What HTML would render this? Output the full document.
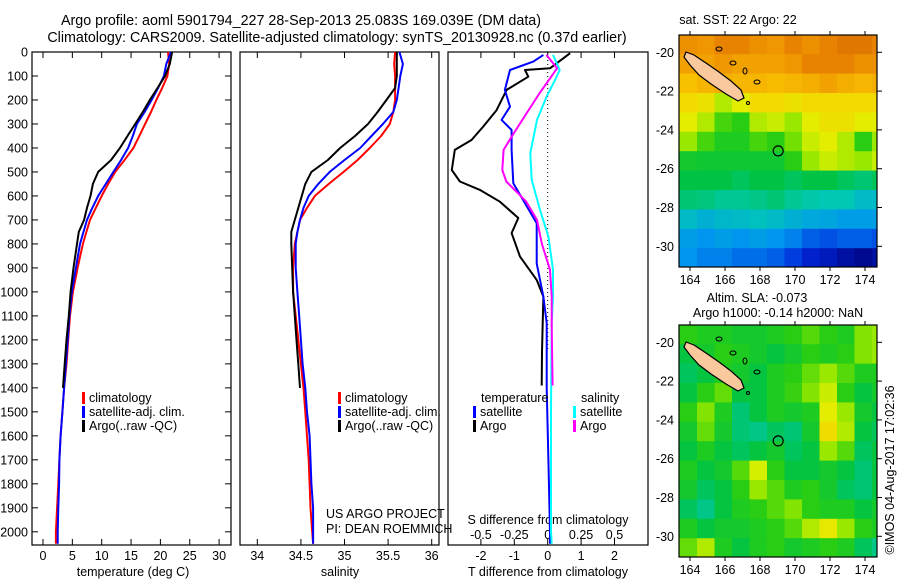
<!DOCTYPE html>
<html><head><meta charset="utf-8">
<style>
html,body{margin:0;padding:0;background:#fff;}
svg{display:block;font-family:"Liberation Sans",sans-serif;}
text{font-size:12.5px;fill:#000;}
</style></head>
<body>
<svg id="fig" width="900" height="580" viewBox="0 0 900 580" xmlns="http://www.w3.org/2000/svg">
<text x="301" y="25" text-anchor="middle" style="font-size:14.3px">Argo profile: aoml 5901794_227 28-Sep-2013 25.083S 169.039E (DM data)</text>
<text x="337" y="42" text-anchor="middle" style="font-size:14.3px">Climatology: CARS2009. Satellite-adjusted climatology: synTS_20130928.nc (0.37d earlier)</text>
<text x="738" y="24" text-anchor="middle">sat. SST: 22 Argo: 22</text>
<text x="757" y="302" text-anchor="middle">Altim. SLA: -0.073</text>
<text x="778" y="317" text-anchor="middle">Argo h1000: -0.14 h2000: NaN</text>
<text transform="translate(894,470) rotate(-90)" text-anchor="middle">©IMOS 04-Aug-2017 17:02:36</text>
<g id="g"></g>
</svg>
<script>
// ---------- data ----------
const depths = [0,50,100,150,200,250,300,350,400,450,500,550,600,650,700,750,800,900,1000,1100,1200,1300,1400,1500,1600,1700,1800,1900,2000,2050];
const tempClim = [21.3,21.5,21.2,20.3,19.3,18.4,17.4,16.4,15.4,13.9,12.3,11.1,10.0,9.0,8.0,7.4,6.8,5.9,5.1,4.6,4.3,4.0,3.6,3.3,3.0,2.8,2.6,2.4,2.2,2.2];
const tempSat = [21.8,21.0,20.6,19.6,18.5,17.3,16.0,15.3,14.5,13.3,12.0,10.7,9.4,8.4,7.5,6.9,6.3,5.6,4.9,4.5,4.2,3.9,3.6,3.3,3.0,2.8,2.75,2.6,2.5,2.5];
const argoDepths = [0,50,100,150,200,250,300,350,400,450,500,550,600,650,700,750,800,900,1000,1100,1200,1300,1400];
const tempArgo = [22.0,21.6,20.8,19.5,18.2,17.0,15.7,14.4,13.1,11.6,9.4,8.5,8.1,7.5,7.0,6.1,5.8,5.2,4.7,4.4,4.0,3.7,3.4];
const salClim = [35.58,35.57,35.58,35.58,35.58,35.56,35.52,35.42,35.29,35.15,34.99,34.82,34.66,34.57,34.49,34.46,34.43,34.41,34.41,34.44,34.47,34.50,34.53,34.55,34.57,34.59,34.60,34.61,34.63,34.64];
const salSat = [35.63,35.67,35.64,35.62,35.60,35.56,35.44,35.31,35.18,35.00,34.83,34.70,34.59,34.53,34.49,34.46,34.44,34.44,34.46,34.48,34.50,34.52,34.55,34.57,34.60,34.61,34.62,34.64,34.64,34.64];
const salArgo = [35.60,35.60,35.60,35.58,35.48,35.38,35.27,35.12,34.95,34.81,34.62,34.55,34.51,34.47,34.43,34.39,34.39,34.40,34.41,34.43,34.45,34.47,34.49];
const dDepthArgoT = [5,68,75,103,158,242,311,367,408,492,540,575,624,692,755,853,950,1020,1130,1250,1390];
const dTArgo = [0.67,0.07,-0.68,-0.58,-1.23,-1.53,-1.93,-2.28,-2.78,-2.87,-2.63,-2.03,-1.43,-0.88,-1.08,-0.83,-0.33,-0.13,-0.15,-0.17,-0.18];
const dDepthArgoS = [12,68,171,283,353,408,492,540,624,700,797,908,1020,1143,1390];
const dSArgo = [-0.01,0.07,-0.06,-0.19,-0.27,-0.33,-0.34,-0.31,-0.16,-0.08,-0.045,0.017,0.03,0.03,0.037];
const dDepthSatT = [12,40,75,158,228,283,325,408,547,714,881,1020,1130,1400,1700,2000,2050];
const dTSat = [-0.13,-0.43,-1.13,-1.28,-1.13,-1.38,-1.08,-1.08,-1.03,-0.33,-0.33,-0.13,-0.03,-0.03,0.02,0.07,0.07];
const dDepthSatS = [12,75,117,186,283,422,533,658,769,908,1020,1130,1500,2000,2050];
const dSSat = [0.04,0.09,0.055,-0.008,-0.08,-0.13,-0.12,-0.058,0.005,0.04,0.04,0.03,0.025,0.025,0.03];
const depthTicks = [0,100,200,300,400,500,600,700,800,900,1000,1100,1200,1300,1400,1500,1600,1700,1800,1900,2000];
const tempTicks = [0,5,10,15,20,25,30];
const salTicks = [34,34.5,35,35.5,36];
const salTickLabels = ["34","34.5","35","35.5","36"];
const dTTicks = [-2,-1,0,1,2];
const dSTicks = [-0.5,-0.25,0,0.25,0.5];
const lonTicks = [164,166,168,170,172,174];
const latTicks = [-20,-22,-24,-26,-28,-30];
const gridLons = [163.4,164.4,165.4,166.4,167.4,168.4,169.4,170.4,171.4,172.4,173.4,174.4];
const gridLats = [-19.1,-20.1,-21.1,-22.1,-23.1,-24.1,-25.1,-26.1,-27.1,-28.1,-29.1,-30.1];
const sstGrid = [
[0.93,0.92,0.95,0.95,0.93,0.92,0.95,0.93,0.95,0.97,0.97,0.95],
[0.9,0.9,0.92,0.9,0.9,0.9,0.92,0.95,0.95,0.95,0.93,0.93],
[0.85,0.87,0.88,0.87,0.87,0.86,0.87,0.88,0.9,0.88,0.87,0.88],
[0.8,0.78,0.7,0.75,0.8,0.8,0.78,0.8,0.8,0.8,0.8,0.8],
[0.75,0.7,0.62,0.6,0.7,0.72,0.68,0.75,0.78,0.78,0.75,0.75],
[0.68,0.62,0.58,0.58,0.62,0.6,0.65,0.72,0.75,0.7,0.6,0.68],
[0.56,0.55,0.55,0.55,0.55,0.55,0.6,0.68,0.72,0.7,0.68,0.72],
[0.52,0.52,0.52,0.5,0.52,0.52,0.5,0.52,0.52,0.5,0.48,0.5],
[0.48,0.47,0.45,0.45,0.46,0.48,0.45,0.43,0.42,0.42,0.38,0.38],
[0.38,0.35,0.37,0.38,0.4,0.38,0.35,0.33,0.32,0.3,0.3,0.3],
[0.3,0.28,0.3,0.28,0.3,0.28,0.25,0.2,0.18,0.2,0.2,0.18],
[0.28,0.25,0.25,0.22,0.22,0.2,0.15,0.1,0.08,0.05,0.03,0.05]];
const slaGrid = [
[0.6,0.58,0.58,0.56,0.56,0.58,0.6,0.63,0.6,0.58,0.66,0.68],
[0.53,0.56,0.6,0.58,0.56,0.53,0.56,0.6,0.58,0.6,0.66,0.68],
[0.5,0.53,0.58,0.56,0.53,0.58,0.6,0.64,0.68,0.63,0.58,0.58],
[0.53,0.6,0.64,0.53,0.53,0.58,0.61,0.66,0.72,0.6,0.53,0.56],
[0.6,0.66,0.58,0.48,0.53,0.58,0.56,0.58,0.75,0.68,0.56,0.53],
[0.56,0.64,0.56,0.48,0.46,0.5,0.48,0.56,0.79,0.7,0.53,0.5],
[0.53,0.58,0.53,0.5,0.53,0.56,0.5,0.53,0.68,0.63,0.5,0.53],
[0.58,0.53,0.56,0.63,0.73,0.6,0.53,0.53,0.56,0.53,0.48,0.53],
[0.56,0.5,0.53,0.6,0.68,0.63,0.58,0.6,0.56,0.5,0.48,0.53],
[0.5,0.46,0.53,0.58,0.6,0.63,0.66,0.6,0.58,0.58,0.53,0.56],
[0.58,0.53,0.56,0.56,0.58,0.6,0.63,0.7,0.76,0.68,0.6,0.58],
[0.64,0.7,0.58,0.53,0.58,0.6,0.56,0.58,0.6,0.58,0.5,0.46]];
const argoLon = 169.039, argoLat = -25.083;

// ---------- helpers ----------
const NS = "http://www.w3.org/2000/svg";
const G = document.getElementById('g');
function mk(tag, attrs, parent){const e=document.createElementNS(NS,tag);for(const k in attrs)e.setAttribute(k,attrs[k]);(parent||G).appendChild(e);return e;}
const Y0=52, PXM=0.2399;
const yD = d => Y0 + d*PXM;
const xT = v => 43 + v*5.87;
const xS = v => 257.3 + (v-34)*87.2;
const xDT = v => 547.7 + v*33.4;
const xDS = v => 547.7 + v*133.6;
const BOT = 545;
const panels = [{l:32,r:231},{l:240,r:439},{l:448,r:648}];

function poly(xs, ys, fx, color, w, name){
  const pts = xs.map((v,i)=>fx(v).toFixed(1)+','+yD(ys[i]).toFixed(1)).join(' ');
  const e = mk('polyline',{points:pts,fill:'none',stroke:color,'stroke-width':w,'stroke-linejoin':'round'});
  
  
}
function txt(x,y,s,anchor,name){
  const t = mk('text',{x:x,y:y,'text-anchor':anchor||'start'}); t.textContent=s;
  
  
  return t;
}

panels.forEach((p,i)=>{
  const r = mk('rect',{x:p.l,y:Y0,width:p.r-p.l,height:BOT-Y0,fill:'none',stroke:'#000','stroke-width':1.2});
  
  
});
depthTicks.forEach(d=>{
  const y=yD(d);
  mk('line',{x1:32,x2:38,y1:y,y2:y,stroke:'#000'});
  mk('line',{x1:225,x2:231,y1:y,y2:y,stroke:'#000'});
  txt(28,y+4.5,String(d),'end','depth-tick-label');
});
function xticks(vals, fx, labels, ylab, name){
  vals.forEach((v,i)=>{
    const x=fx(v);
    mk('line',{x1:x,x2:x,y1:Y0,y2:Y0+6,stroke:'#000'});
    mk('line',{x1:x,x2:x,y1:BOT,y2:BOT-6,stroke:'#000'});
    txt(x,ylab,labels?labels[i]:String(v),'middle',name);
  });
}
xticks(tempTicks,xT,null,560,'temperature-tick-label');
xticks(salTicks,xS,salTickLabels,560,'salinity-tick-label');
xticks(dTTicks,xDT,null,560,'t-diff-tick-label');
dSTicks.forEach(v=>{ txt(xDS(v),539,String(v),'middle','s-diff-tick-label'); });
txt(133,576,'temperature (deg C)','middle','temperature-axis-title');
txt(340,576,'salinity','middle','salinity-axis-title');
txt(548,576,'T difference from climatology','middle','t-diff-axis-title');
txt(548,524,'S difference from climatology','middle','s-diff-axis-title');
txt(326,518,'US ARGO PROJECT','start','project-label');
txt(326,533,'PI: DEAN ROEMMICH','start','pi-label');

const zl = mk('line',{x1:xDT(0),x2:xDT(0),y1:Y0,y2:yD(1250),stroke:'#000','stroke-dasharray':'1,3'});



poly(tempClim,depths,xT,'#ff0000',2,'temp-climatology-line');
poly(tempSat,depths,xT,'#0000ff',2,'temp-satellite-line');
poly(tempArgo,argoDepths,xT,'#000000',2,'temp-argo-line');
poly(salClim,depths,xS,'#ff0000',2,'salinity-climatology-line');
poly(salSat,depths,xS,'#0000ff',2,'salinity-satellite-line');
poly(salArgo,argoDepths,xS,'#000000',2,'salinity-argo-line');
poly(dTArgo,dDepthArgoT,xDT,'#000000',2,'t-diff-argo-line');
poly(dTSat,dDepthSatT,xDT,'#0000ff',2,'t-diff-satellite-line');
poly(dSSat,dDepthSatS,xDS,'#00ffff',2,'s-diff-satellite-line');
poly(dSArgo,dDepthArgoS,xDS,'#ff00ff',2,'s-diff-argo-line');

function legItem(x,y,color,label,name){
  const b = mk('rect',{x:x,y:y-10,width:3,height:12,fill:color});
  
  
  txt(x+7,y,label,'start',name);
}
[[82,'legend-panel1'],[338,'legend-panel2']].forEach(([lx,n])=>{
  legItem(lx,402,'#ff0000','climatology',n+'-climatology');
  legItem(lx,416,'#0000ff','satellite-adj. clim.',n+'-satellite');
  legItem(lx,430,'#000000','Argo(..raw -QC)',n+'-argo');
});
txt(481,402,'temperature','start','legend-temperature-heading');
txt(581,402,'salinity','start','legend-salinity-heading');
legItem(473,416,'#0000ff','satellite','legend-t-satellite');
legItem(473,430,'#000000','Argo','legend-t-argo');
legItem(573,416,'#00ffff','satellite','legend-s-satellite');
legItem(573,430,'#ff00ff','Argo','legend-s-argo');

// ---------- maps ----------
const cStops=[[0,[0,0,120]],[0.12,[0,40,220]],[0.28,[0,150,240]],[0.42,[0,200,180]],[0.52,[0,195,70]],[0.6,[40,205,20]],[0.66,[130,228,0]],[0.74,[225,240,0]],[0.83,[250,205,0]],[0.92,[240,150,0]],[1,[215,100,0]]];
function cmap(v){
  for(let i=1;i<cStops.length;i++){ if(v<=cStops[i][0]){const a=cStops[i-1],b=cStops[i];const t=(v-a[0])/(b[0]-a[0]);
    return 'rgb('+a[1].map((c,k)=>Math.round(c+(b[1][k]-c)*t)).join(',')+')';}}
  return 'rgb(215,100,0)';
}
function drawMap(top, grid, name){
  const L=679,R=877,T=top,B=top+232;
  const xL = lon => 690 + (lon-164)*17.5;
  const yL = lat => top + 17.3 + (-20-lat)*19.4;
  const clipId='clip'+name;
  const cp = mk('clipPath',{id:clipId}); mk('rect',{x:L,y:T,width:R-L,height:B-T},cp);
  const cg = mk('g',{'clip-path':'url(#'+clipId+')'});
  grid.forEach((row,ri)=>row.forEach((v,ci)=>{
    const x=xL(gridLons[ci]), y=yL(gridLats[ri]);
    const c = mk('rect',{x:x.toFixed(1),y:y.toFixed(1),width:18.1,height:20,fill:cmap(v)},cg);
    
    
  }));
  const off = top-35;
  const isl = mk('polygon',{points:[[686,52],[694,55],[706,63],[719,72],[731,81],[741,90],[744,98],[738,101],[726,94],[711,84],[699,75],[690,65],[684,57]].map(p=>p[0]+','+(p[1]+off)).join(' '),fill:'#f9c89c',stroke:'#000','stroke-width':1.2},cg);
  
  
  [[719,49,3,2],[733,63,3,2],[745,71,2,3],[757,82,3,2],[748,103,1.5,1.5]].forEach(e=>{
    const s=mk('ellipse',{cx:e[0],cy:e[1]+off,rx:e[2],ry:e[3],fill:'none',stroke:'#000'},cg);
    
    
  });
  const f=mk('rect',{x:L,y:T,width:R-L,height:B-T,fill:'none',stroke:'#000','stroke-width':1.2});
  
  
  const ac=mk('circle',{cx:xL(argoLon),cy:yL(argoLat),r:5,fill:'none',stroke:'#000','stroke-width':1.2});
  
  
  lonTicks.forEach(l=>{ const x=xL(l);
    mk('line',{x1:x,x2:x,y1:T,y2:T-4,stroke:'#000'});
    mk('line',{x1:x,x2:x,y1:B,y2:B+4,stroke:'#000'});
    txt(x,B+17,String(l),'middle',name+'-lon-label'); });
  latTicks.forEach(l=>{ const y=yL(l);
    mk('line',{x1:R,x2:R+5,y1:y,y2:y,stroke:'#000'});
    txt(674,y+4.5,String(l),'end',name+'-lat-label'); });
}
drawMap(35,sstGrid,'sst-map');
drawMap(325,slaGrid,'sla-map');
</script>
</body></html>
